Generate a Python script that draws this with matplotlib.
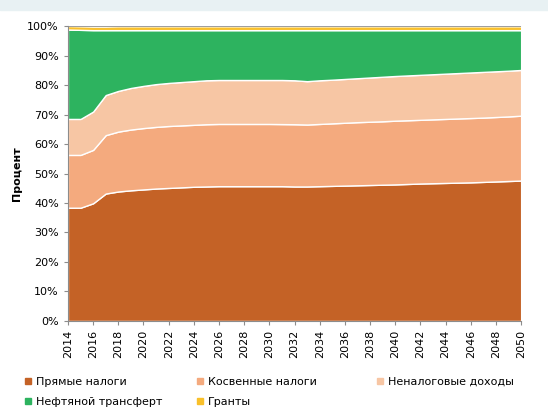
import numpy as np
import matplotlib.pyplot as plt
from matplotlib.lines import Line2D
from matplotlib.patches import Rectangle

years = list(range(2014, 2051))

# доли, % (с графика)
pryamye = [38.4, 38.4, 39.9, 43.2, 43.9, 44.3, 44.6, 44.9, 45.1, 45.3, 45.5, 45.6, 45.7,
           45.7, 45.7, 45.7, 45.7, 45.7, 45.6, 45.6, 45.7, 45.8, 45.9, 46.0, 46.1, 46.2,
           46.3, 46.45, 46.6, 46.7, 46.8, 46.9, 47.0, 47.15, 47.3, 47.45, 47.6]
kosvennye = [17.9, 17.9, 18.1, 19.8, 20.3, 20.6, 20.8, 20.9, 21.0, 21.0, 21.0, 21.1, 21.1,
             21.1, 21.1, 21.1, 21.1, 21.05, 21.1, 21.0, 21.1, 21.2, 21.3, 21.4, 21.45, 21.5,
             21.6, 21.6, 21.6, 21.65, 21.7, 21.75, 21.8, 21.8, 21.85, 21.9, 22.0]
nenalog = [12.2, 12.2, 13.0, 13.6, 13.8, 14.1, 14.3, 14.5, 14.6, 14.7, 14.8, 14.9, 14.9,
           14.9, 14.9, 14.9, 14.9, 14.95, 14.9, 14.7, 14.8, 14.8, 14.85, 14.9, 15.0, 15.1,
           15.15, 15.2, 15.25, 15.3, 15.35, 15.4, 15.45, 15.5, 15.5, 15.5, 15.5]
neft = [30.3, 30.2, 27.6, 22.0, 20.6, 19.6, 18.9, 18.3, 17.9, 17.6, 17.3, 17.0, 16.9,
        16.9, 16.9, 16.9, 16.9, 16.9, 17.0, 17.3, 17.0, 16.8, 16.55, 16.3, 16.05, 15.8,
        15.55, 15.35, 15.15, 14.95, 14.75, 14.55, 14.35, 14.15, 13.95, 13.75, 13.5]
granty = [1.2] * 4 + [1.3] * 33

names = ["Прямые налоги", "Косвенные налоги", "Неналоговые доходы",
         "Нефтяной трансферт", "Гранты"]
colors = ["#C46226", "#F4AA7E", "#F7C6A4", "#2DB35F", "#F9C02A"]

fig = plt.figure(figsize=(5.48, 4.13), dpi=100)
fig.patches.append(Rectangle((0, 1 - 10 / 413), 1, 10 / 413, transform=fig.transFigure,
                             color="#E8F1F3", zorder=0))
ax = fig.add_axes([0.124, 0.2228, 0.827, 0.7142])

ax.stackplot(years, pryamye, kosvennye, nenalog, neft, granty, colors=colors,
             edgecolor="white", linewidth=1.0)
ax.axhline(100, color="#8C8C8C", lw=1.2)

ax.set_xlim(2014, 2050)
ax.set_ylim(0, 100)
ax.set_xticks(range(2014, 2051, 2))
ax.set_xticklabels([str(y) for y in range(2014, 2051, 2)], rotation=90, fontsize=8)
ax.set_yticks(range(0, 101, 10))
ax.set_yticklabels([f"{v}%" for v in range(0, 101, 10)], fontsize=8)
ax.tick_params(axis="both", color="#8C8C8C", length=3)
for s in ["top", "right"]:
    ax.spines[s].set_visible(False)
for s in ["left", "bottom"]:
    ax.spines[s].set_color("#8C8C8C")
ax.set_ylabel("Процент", fontsize=8, fontweight="bold")

# легенда: три столбца отдельными легендами
columns = [[0, 3], [1, 4], [2]]
col_x = [0.0435, 0.3575, 0.6855]
for idx, x0 in zip(columns, col_x):
    handles = [Line2D([], [], marker="s", ls="", markersize=5, color=colors[i]) for i in idx]
    leg = fig.legend(handles, [names[i] for i in idx], loc="upper left",
                     bbox_to_anchor=(x0, 0.088), frameon=False, fontsize=8,
                     borderpad=0, borderaxespad=0, handlelength=0.8,
                     handletextpad=0.3, labelspacing=0.95)

fig.savefig("out.png", dpi=100)
